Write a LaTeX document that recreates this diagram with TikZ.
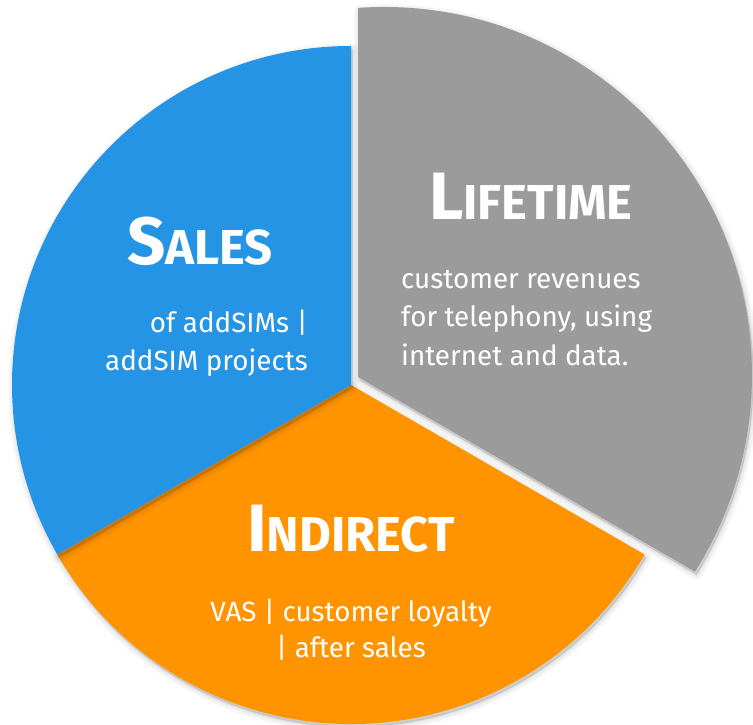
\documentclass[tikz,border=0pt]{standalone}
\usepackage{fontspec}
\setmainfont{Fira Sans}
\definecolor{pieblue}{RGB}{38,148,228}
\definecolor{pieorange}{RGB}{255,148,0}
\definecolor{piegray}{RGB}{155,155,155}
\newcommand{\fakesc}[2]{{\fontsize{67}{67}\selectfont #1}{\fontsize{49}{49}\selectfont #2}}
\newcommand{\bluewedge}[1]{\fill[#1] (351,340) -- (351,679) arc[start angle=90,end angle=210,radius=339] -- cycle;}
\newcommand{\orangewedge}[1]{\fill[#1] (351,340) -- (57.42,170.5) arc[start angle=210,end angle=330,radius=339] -- cycle;}
\newcommand{\graywedge}[1]{\fill[#1] (358,348) -- (358,717.08) arc[start angle=94.05,end angle=-32.3,radius=368] -- cycle;}
\newcommand{\softshadow}[1]{%
  \foreach \w/\o in {12/0.02,9/0.022,6/0.025,3/0.03,1/0.03}{%
    #1{black,opacity=\o,draw,line width=\w,line join=round,shift={(1.5,-3)}}}}
\tikzset{
  title/.style={text=white,font=\bfseries,inner sep=0pt,anchor=base},
  body/.style={text=white,font=\fontsize{27.8}{34}\selectfont,inner sep=0pt}
}
\begin{document}
\begin{tikzpicture}[x=1pt,y=1pt]
\useasboundingbox (0,0) rectangle (753,725);
\fill[white] (0,0) rectangle (753,725);
% orange
\softshadow{\orangewedge}
\orangewedge{pieorange}
% blue
\softshadow{\bluewedge}
\bluewedge{pieblue}
% gray (exploded)
\softshadow{\graywedge}
\graywedge{piegray}
% titles
\node[title] (salesT) at (200,460) {\fakesc{S}{ALES}};
\node[title] (lifeT) at (531,505) {\fakesc{L}{IFETIME}};
\node[title] (indT) at (351,173) {\fakesc{I}{NDIRECT}};
% sales text
\node[body,anchor=base east] (s1) at (308,392) {of addSIMs |};
\node[body,anchor=base east] (s2) at (308,354) {addSIM projects};
% lifetime text
\node[body,anchor=base west] (l1) at (401,436) {customer revenues};
\node[body,anchor=base west] (l2) at (401,398) {for telephony, using};
\node[body,anchor=base west] (l3) at (401,359) {internet and data.};
% indirect text
\node[body,anchor=base] (i1) at (351,103) {VAS | customer loyalty};
\node[body,anchor=base] (i2) at (351,67) {| after sales};
\end{tikzpicture}
\end{document}
